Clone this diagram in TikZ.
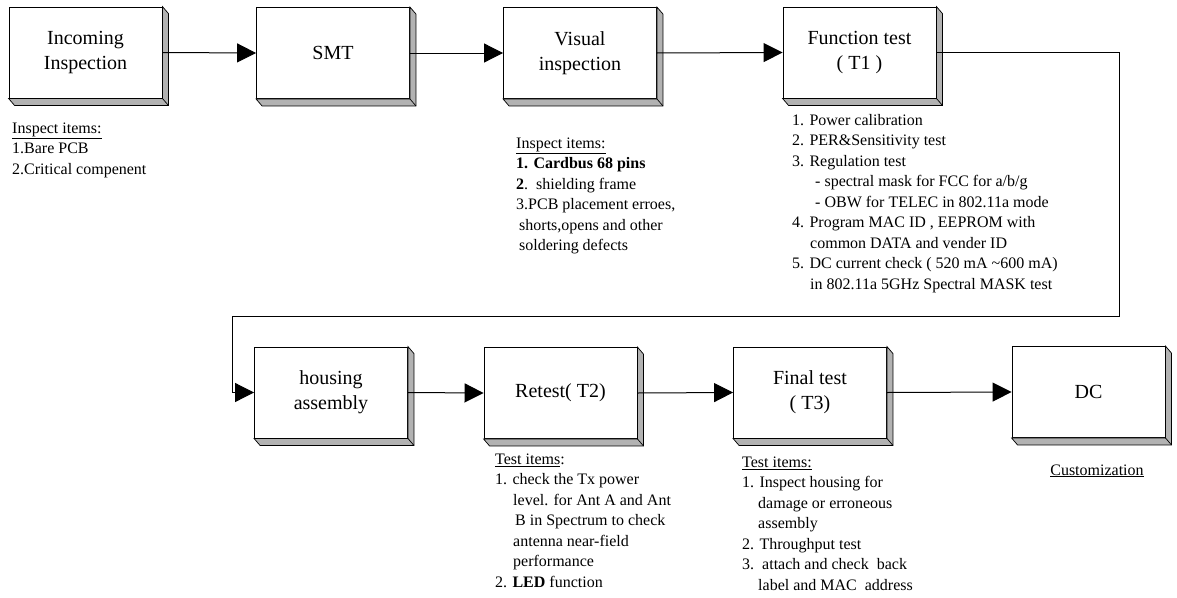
\documentclass[tikz,border=0pt]{standalone}
\usepackage{fontspec}
\setmainfont{Liberation Serif}
\usetikzlibrary{arrows.meta,calc}
\begin{document}
\begin{tikzpicture}[x=1pt,y=-1pt,
  stepbox/.style={draw=black,line width=0.9pt,fill=white,minimum width=153pt,minimum height=91pt,inner sep=0pt,align=center,font=\fontsize{20}{25}\selectfont},
  flow/.style={line width=1pt,-{Triangle[length=19pt,width=19pt]}},
  items/.style={anchor=north west,inner sep=0pt,align=left,font=\fontsize{16}{20.5}\selectfont},
  shade/.style={fill=black!30,draw=black,line width=0.7pt}]
\useasboundingbox (0,0) rectangle (1177,597);
% boxes
\node[stepbox] (in)  at (85.5,52.5) {Incoming\\Inspection};
\node[stepbox] (smt) at (333,53) {SMT};
\node[stepbox] (vis) at (580,53) {Visual\\inspection};
\node[stepbox] (fun) at (859.5,52.5) {Function test\\( T1 )};
\node[stepbox] (hou) at (331,392.5) {housing\\assembly};
\node[stepbox] (ret) at (560.5,393) {Retest( T2)};
\node[stepbox] (fin) at (810,392.5) {Final test\\( T3)};
\node[stepbox] (dc)  at (1088.5,392) {DC};
% 3D shadows
\foreach \n in {in,smt,vis,fun,hou,ret,fin,dc}{
  \draw[shade] (\n.south west) -- ++(6,7) -- ($(\n.south east)+(6,7)$) -- ($(\n.north east)+(6,7)$) -- (\n.north east) -- (\n.south east) -- cycle;
  \draw[line width=0.7pt] (\n.south east) -- ++(6,7);
}
% connectors
\draw[flow] (in.east) -- (smt.west);
\draw[flow] (smt.east) -- (vis.west);
\draw[flow] (vis.east) -- (fun.west);
\coordinate (c1) at (1119,316);
\coordinate (c2) at (232,316);
\draw[flow] (fun.east) -| (c1) -- (c2) |- (hou.west);
\draw[flow] (hou.east) -- (ret.west);
\draw[flow] (ret.east) -- (fin.west);
\draw[flow] (fin.east) -- (dc.west);
% item lists
\node[items] (t1) at (12,118.6) {\strut\underline{Inspect items:}\\1.Bare PCB\\2.Critical compenent};
\node[items] (t2) at (516,133.6) {\strut\underline{Inspect items:}\\\textbf{1. Cardbus 68 pins}\\\textbf{2}.\ \ shielding frame\\3.PCB placement erroes,\\\hspace*{3pt}shorts,opens and other\\\hspace*{3pt}soldering defects};
\node[items] (t3) at (792,110.6) {\strut 1. Power calibration\\2. PER\&Sensitivity test\\3. Regulation test\\\hspace*{23pt}- spectral mask for FCC for a/b/g\\\hspace*{23pt}- OBW for TELEC in 802.11a mode\\4. Program MAC ID , EEPROM with\\\hspace*{18pt}common DATA and vender ID\\5. DC current check ( 520 mA \textasciitilde600 mA)\\\hspace*{18pt}in 802.11a 5GHz Spectral MASK test};
\node[items] (t4) at (495,449.6) {\strut\underline{Test items}:\\1. check the Tx power\\\hspace*{18pt}level. for Ant A and Ant\\\hspace*{20pt}B in Spectrum to check\\\hspace*{18pt}antenna near-field\\\hspace*{18pt}performance\\2. \textbf{LED} function};
\node[items] (t5) at (742,452.6) {\strut\underline{Test items:}\\1. Inspect housing for\\\hspace*{16pt}damage or erroneous\\\hspace*{16pt}assembly\\2. Throughput test\\3.\ \ attach and check\ \ back\\\hspace*{16pt}label and MAC\ \ address};
\node[anchor=base,inner sep=0pt,font=\fontsize{16}{20.5}\selectfont] (t6) at (1097,475) {\underline{Customization}};
\end{tikzpicture}
\end{document}
